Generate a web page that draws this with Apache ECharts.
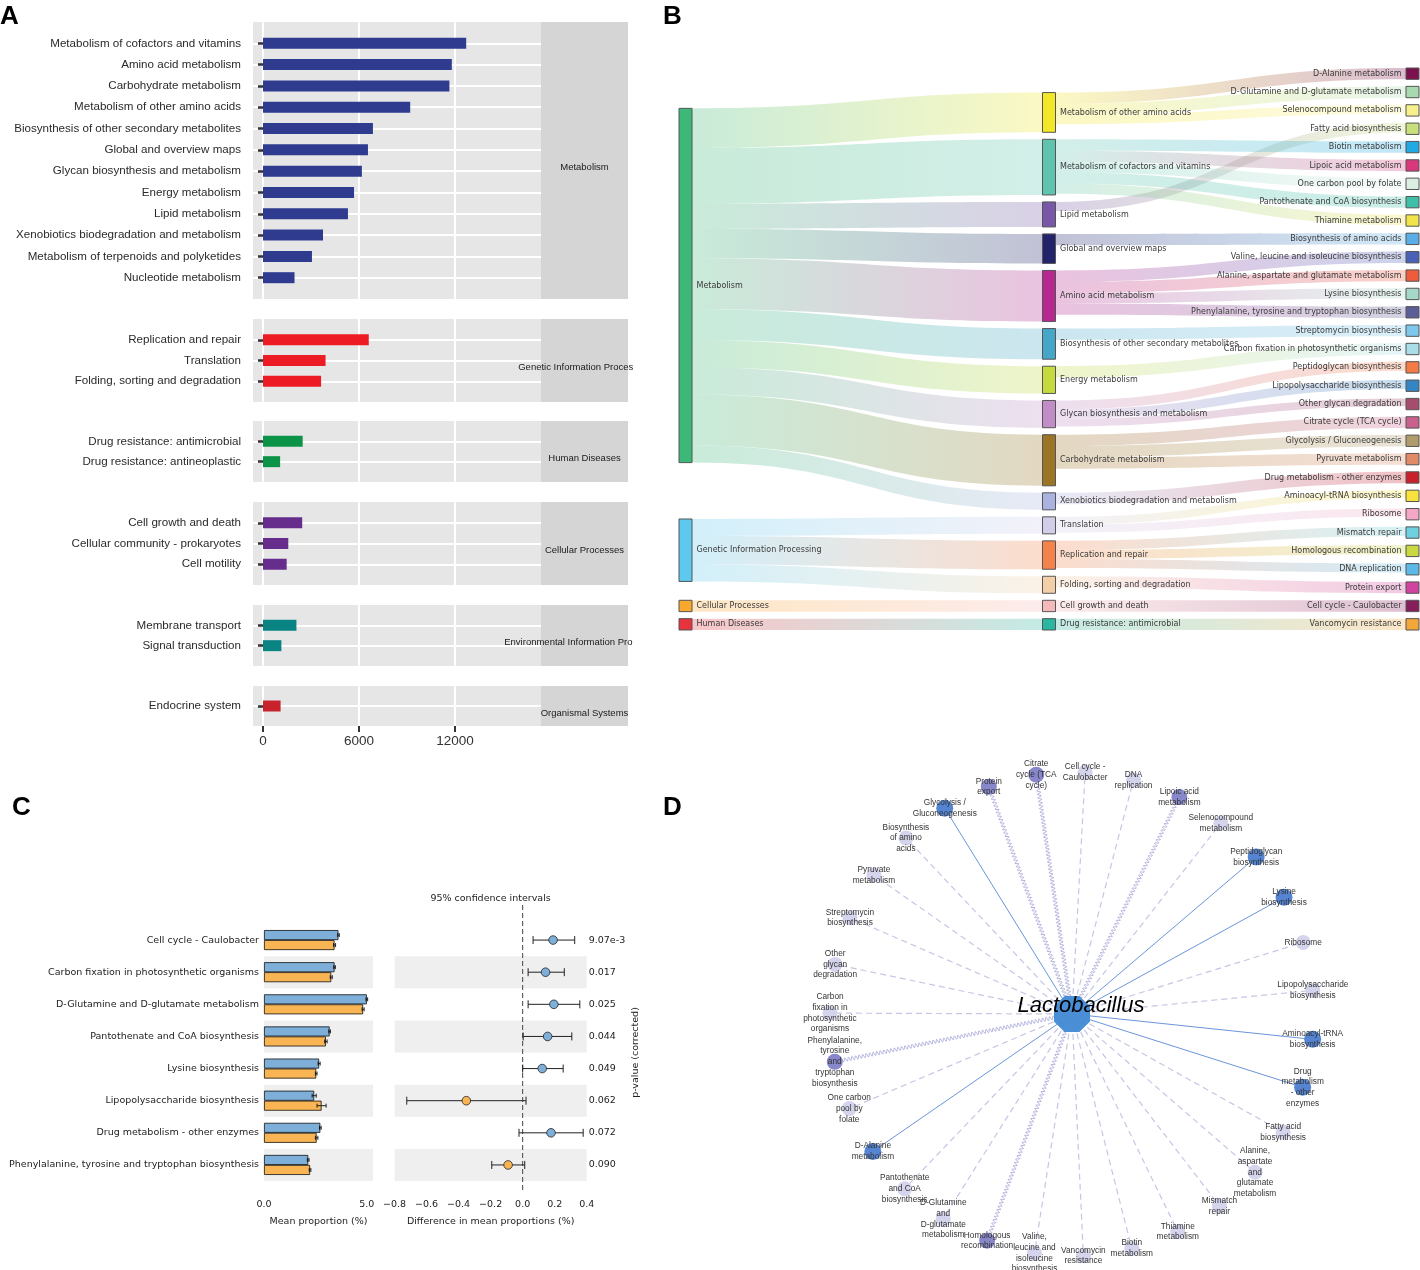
<!DOCTYPE html>
<html><head><meta charset="utf-8">
<script src="https://cdn.jsdelivr.net/npm/echarts@6/dist/echarts.min.js"></script>
<style>html,body{margin:0;padding:0;background:#fff}#c{width:1420px;height:1270px}</style>
</head><body><div id="c"></div>
<script>
// ================= Panel A data =================
const aFacets = ['Metabolism','Genetic Information Processing','Human Diseases','Cellular Processes','Environmental Information Processing','Organismal Systems'];
const aMetabolismCats = ['Metabolism of cofactors and vitamins','Amino acid metabolism','Carbohydrate metabolism','Metabolism of other amino acids','Biosynthesis of other secondary metabolites','Global and overview maps','Glycan biosynthesis and metabolism','Energy metabolism','Lipid metabolism','Xenobiotics biodegradation and metabolism','Metabolism of terpenoids and polyketides','Nucleotide metabolism'];
const aMetabolismVals = [12700,11800,11650,9200,6870,6560,6180,5690,5310,3750,3060,1970];
const aGeneticCats = ['Replication and repair','Translation','Folding, sorting and degradation'];
const aGeneticVals = [6610,3910,3630];
const aHumanCats = ['Drug resistance: antimicrobial','Drug resistance: antineoplastic'];
const aHumanVals = [2480,1070];
const aCellularCats = ['Cell growth and death','Cellular community - prokaryotes','Cell motility'];
const aCellularVals = [2450,1580,1480];
const aEnvCats = ['Membrane transport','Signal transduction'];
const aEnvVals = [2090,1150];
const aOrgCats = ['Endocrine system'];
const aOrgVals = [1100];
const aTicks = [0, 6000, 12000];

// ================= Panel B data =================
const bLeft = ['Metabolism','Genetic Information Processing','Cellular Processes','Human Diseases'];
const bLeftColors = ['#3db878','#5ec8ee','#f8a82c','#e8333d'];
const bMid = ['Metabolism of other amino acids','Metabolism of cofactors and vitamins','Lipid metabolism','Global and overview maps','Amino acid metabolism','Biosynthesis of other secondary metabolites','Energy metabolism','Glycan biosynthesis and metabolism','Carbohydrate metabolism','Xenobiotics biodegradation and metabolism','Translation','Replication and repair','Folding, sorting and degradation','Cell growth and death','Drug resistance: antimicrobial'];
const bMidParent = ['Metabolism','Metabolism','Metabolism','Metabolism','Metabolism','Metabolism','Metabolism','Metabolism','Metabolism','Metabolism','Genetic Information Processing','Genetic Information Processing','Genetic Information Processing','Cellular Processes','Human Diseases'];
const bMidValues = [3.5,4.9,2.2,2.6,4.5,2.7,2.4,2.4,4.5,1.5,1.5,2.5,1.5,1,1];
const bMidColors = ['#f3e72a','#5fc4ae','#7858a6','#23236b','#b4288f','#46a6c8','#c5da3f','#c08dc7','#9b7425','#aab3e0','#d2cee9','#f4834b','#f3cfa7','#f6b9ba','#2bb6a1'];
const bRight = ['D-Alanine metabolism','D-Glutamine and D-glutamate metabolism','Selenocompound metabolism','Fatty acid biosynthesis','Biotin metabolism','Lipoic acid metabolism','One carbon pool by folate','Pantothenate and CoA biosynthesis','Thiamine metabolism','Biosynthesis of amino acids','Valine, leucine and isoleucine biosynthesis','Alanine, aspartate and glutamate metabolism','Lysine biosynthesis','Phenylalanine, tyrosine and tryptophan biosynthesis','Streptomycin biosynthesis','Carbon fixation in photosynthetic organisms','Peptidoglycan biosynthesis','Lipopolysaccharide biosynthesis','Other glycan degradation','Citrate cycle (TCA cycle)','Glycolysis / Gluconeogenesis','Pyruvate metabolism','Drug metabolism - other enzymes','Aminoacyl-tRNA biosynthesis','Ribosome','Mismatch repair','Homologous recombination','DNA replication','Protein export','Cell cycle - Caulobacter','Vancomycin resistance'];
const bRightParent = ['Metabolism of other amino acids','Metabolism of other amino acids','Metabolism of other amino acids','Lipid metabolism','Metabolism of cofactors and vitamins','Metabolism of cofactors and vitamins','Metabolism of cofactors and vitamins','Metabolism of cofactors and vitamins','Metabolism of cofactors and vitamins','Global and overview maps','Amino acid metabolism','Amino acid metabolism','Amino acid metabolism','Amino acid metabolism','Biosynthesis of other secondary metabolites','Energy metabolism','Glycan biosynthesis and metabolism','Glycan biosynthesis and metabolism','Glycan biosynthesis and metabolism','Carbohydrate metabolism','Carbohydrate metabolism','Carbohydrate metabolism','Xenobiotics biodegradation and metabolism','Translation','Translation','Replication and repair','Replication and repair','Replication and repair','Folding, sorting and degradation','Cell growth and death','Drug resistance: antimicrobial'];
const bRightLinkValues = [1,1,0.8,0.8,1,1,0.9,1,0.9,1,1,1,0.9,1,1,1,0.8,0.8,0.7,1,1,1,1,0.7,0.7,0.8,0.8,0.8,1,1,1];
const bRightNodeValue = 1;
const bRightColors = ['#7c1150','#a9d9b1','#f8f08d','#c8e07b','#21a9e5','#d8387b','#dcefe5','#40bfa8','#f3e34b','#5aaee7','#4862b7','#ee5b3d','#a5d8c8','#5c5e97','#7ec8ee','#a9dde7','#f47b46','#3485c3','#a64d6e','#c9608e','#b09b6d','#e08a68','#c8212b','#f8e23b','#f4a7c6','#6fd0df','#c9d841','#5bb8e7','#d0439e','#861e5b','#f4a739'];

// ================= Panel C data =================
const cPathways = ['Cell cycle - Caulobacter','Carbon fixation in photosynthetic organisms','D-Glutamine and D-glutamate metabolism','Pantothenate and CoA biosynthesis','Lysine biosynthesis','Lipopolysaccharide biosynthesis','Drug metabolism - other enzymes','Phenylalanine, tyrosine and tryptophan biosynthesis'];
const cMeanBlue = [3.62,3.43,5.00,3.19,2.68,2.44,2.74,2.15];
const cMeanOrange = [3.43,3.27,4.82,3.01,2.54,2.80,2.56,2.24];
const cErrBlue = [0.04,0.04,0.04,0.04,0.05,0.10,0.04,0.04];
const cErrOrange = [0.05,0.05,0.05,0.06,0.04,0.22,0.06,0.04];
const cDiff = [0.190,0.143,0.195,0.156,0.122,-0.352,0.177,-0.091];
const cLow = [0.065,0.034,0.034,0.003,0.000,-0.724,-0.023,-0.193];
const cHigh = [0.325,0.260,0.357,0.307,0.253,0.021,0.378,0.013];
const cPvals = ['9.07e-3','0.017','0.025','0.044','0.049','0.062','0.072','0.090'];
const cDiffTicks = [-0.8,-0.6,-0.4,-0.2,0.0,0.2,0.4];

// ================= Panel D data =================
const dHub = 'Lactobacillus';
const dPathways = ['Citrate cycle (TCA cycle)','Cell cycle - Caulobacter','DNA replication','Lipoic acid metabolism','Selenocompound metabolism','Peptidoglycan biosynthesis','Lysine biosynthesis','Ribosome','Lipopolysaccharide biosynthesis','Aminoacyl-tRNA biosynthesis','Drug metabolism - other enzymes','Fatty acid biosynthesis','Alanine, aspartate and glutamate metabolism','Mismatch repair','Thiamine metabolism','Biotin metabolism','Vancomycin resistance','Valine, leucine and isoleucine biosynthesis','Homologous recombination','D-Glutamine and D-glutamate metabolism','Pantothenate and CoA biosynthesis','D-Alanine metabolism','One carbon pool by folate','Phenylalanine, tyrosine and tryptophan biosynthesis','Carbon fixation in photosynthetic organisms','Other glycan degradation','Streptomycin biosynthesis','Pyruvate metabolism','Biosynthesis of amino acids','Glycolysis / Gluconeogenesis','Protein export'];
const dLabels = ['Citrate\ncycle (TCA\ncycle)','Cell cycle -\nCaulobacter','DNA\nreplication','Lipoic acid\nmetabolism','Selenocompound\nmetabolism','Peptidoglycan\nbiosynthesis','Lysine\nbiosynthesis','Ribosome','Lipopolysaccharide\nbiosynthesis','Aminoacyl-tRNA\nbiosynthesis','Drug\nmetabolism\n- other\nenzymes','Fatty acid\nbiosynthesis','Alanine,\naspartate\nand\nglutamate\nmetabolism','Mismatch\nrepair','Thiamine\nmetabolism','Biotin\nmetabolism','Vancomycin\nresistance','Valine,\nleucine and\nisoleucine\nbiosynthesis','Homologous\nrecombination','D-Glutamine\nand\nD-glutamate\nmetabolism','Pantothenate\nand CoA\nbiosynthesis','D-Alanine\nmetabolism','One carbon\npool by\nfolate','Phenylalanine,\ntyrosine\nand\ntryptophan\nbiosynthesis','Carbon\nfixation in\nphotosynthetic\norganisms','Other\nglycan\ndegradation','Streptomycin\nbiosynthesis','Pyruvate\nmetabolism','Biosynthesis\nof amino\nacids','Glycolysis /\nGluconeogenesis','Protein\nexport'];
const dEdgeType = ['zigzag','dashed','dashed','zigzag','dashed','solid','solid','dashed','dashed','solid','solid','dashed','dashed','dashed','dashed','dashed','dashed','dashed','zigzag','dashed','dashed','solid','dashed','zigzag','dashed','dashed','dashed','dashed','dashed','solid','zigzag'];

// ================= build =================
const NARROW = "'Liberation Sans Narrow','Arial Narrow','Liberation Sans',sans-serif";
const SANS = "'Liberation Sans',Arial,sans-serif";
const DJV = "'DejaVu Sans',sans-serif";

const chart = echarts.init(document.getElementById('c'), null, {width:1420, height:1270});

const grids = [], xAxes = [], yAxes = [], series = [], graphics = [];

// ---------- Panel A ----------
const aCats = [aMetabolismCats, aGeneticCats, aHumanCats, aCellularCats, aEnvCats, aOrgCats];
const aVals = [aMetabolismVals, aGeneticVals, aHumanVals, aCellularVals, aEnvVals, aOrgVals];
const aColors = ['#2e3b8f','#ed1c24','#0b9447','#662d8c','#0a8482','#c8222d'];
const aBox = [[22,299],[319,402],[421,482],[502,585],[605,666],[686,726]];
const isBlank = (v) => String(v).trim() === '';
const mctx = document.createElement('canvas').getContext('2d');
aFacets.forEach((f, i) => {
  const [t, b] = aBox[i];
  grids.push({left:253, width:288, top:t, height:b - t, show:true, backgroundColor:'#e6e6e6', borderWidth:0, outerBoundsMode:'none', containLabel:false});
  xAxes.push({gridIndex:i, type:'value', min:-625, max:17375,
    axisLine:{show:false},
    axisTick:{show: i === 5, customValues: aTicks, length:6, lineStyle:{color:'#333', width:2}},
    axisLabel:{show: i === 5, customValues: aTicks, formatter:(v) => String(v), fontSize:13.5, fontFamily:NARROW, color:'#333', margin:8},
    splitLine:{show:true, lineStyle:{color:'#fff', width:2}}});
  yAxes.push({gridIndex:i, type:'category', inverse:true, boundaryGap:false,
    data:[' '].concat(aCats[i], ['  ']),
    axisLine:{show:false},
    axisTick:{length:5, lineStyle:{color:'#333', width:2.5}, interval:(idx, v) => !isBlank(v)},
    axisLabel:{fontSize:11.6, fontFamily:NARROW, color:'#2a2a2a', margin:12, interval:0},
    splitLine:{show:true, lineStyle:{color:'#fff', width:2}, interval:(idx, v) => !isBlank(v)}});
  series.push({type:'bar', xAxisIndex:i, yAxisIndex:i, barWidth:11, silent:true,
    data:[null].concat(aVals[i], [null]), itemStyle:{color:aColors[i]}});
  // strip
  graphics.push({type:'rect', shape:{x:541, y:t, width:87, height:b - t}, style:{fill:'#d5d5d5'}, silent:true});
  mctx.font = '9.5px ' + NARROW;
  const w = mctx.measureText(f).width;
  const x0 = 584.5 - w / 2;
  graphics.push({type:'text', x:x0, y:(t + b) / 2 + 7, silent:true,
    style:{text:f, fontSize:9.5, fontFamily:NARROW, fill:'#1a1a1a', align:'left', verticalAlign:'middle',
      width: Math.min(w + 2, 639 - x0), overflow:'truncate', ellipsis:''}});
});

// ---------- Panel C ----------
const gC1 = grids.length; grids.push({left:264, width:109, top:924, height:257, outerBoundsMode:'none', containLabel:false});
const gC2 = grids.length; grids.push({left:394.6, width:192.1, top:924, height:257, outerBoundsMode:'none', containLabel:false});
const cAxisLabel = {fontSize:9.5, fontFamily:DJV, color:'#222'};
xAxes.push({gridIndex:gC1, type:'value', min:0, max:5.3, offset:14,
  axisLine:{lineStyle:{color:'#333', width:0.8}},
  axisTick:{customValues:[0,5], inside:true, length:4, lineStyle:{color:'#333'}},
  axisLabel:Object.assign({customValues:[0,5], formatter:(v) => v.toFixed(1), margin:5}, cAxisLabel),
  splitLine:{show:false},
  name:'Mean proportion (%)', nameLocation:'middle', nameGap:22, nameTextStyle:cAxisLabel});
xAxes.push({gridIndex:gC2, type:'value', min:-0.8, max:0.4, interval:0.2, offset:14,
  axisLine:{lineStyle:{color:'#333', width:0.8}},
  axisTick:{customValues:cDiffTicks, inside:true, length:4, lineStyle:{color:'#333'}},
  axisLabel:Object.assign({customValues:cDiffTicks, margin:5, formatter:(v) => (v < -1e-9 ? '\u2212' : '') + Math.abs(v).toFixed(1)}, cAxisLabel),
  splitLine:{show:false},
  name:'Difference in mean proportions (%)', nameLocation:'middle', nameGap:22, nameTextStyle:cAxisLabel});
const yC1 = yAxes.length;
yAxes.push({gridIndex:gC1, type:'category', inverse:true, data:cPathways,
  axisLine:{show:false}, axisTick:{show:false}, axisLabel:Object.assign({margin:5, interval:0}, cAxisLabel)});
const yC2 = yAxes.length;
yAxes.push({gridIndex:gC2, type:'category', inverse:true, data:cPathways, show:false});
yAxes.push({gridIndex:gC2, type:'category', inverse:true, position:'right', data:cPvals,
  axisLine:{show:false}, axisTick:{show:false}, axisLabel:Object.assign({margin:2, interval:0, align:'left'}, cAxisLabel),
  name:'p-value (corrected)', nameLocation:'middle', nameRotate:90, nameGap:44, nameTextStyle:cAxisLabel});

const bandRows = cPathways.map((p, i) => i).filter(i => i % 2 === 1);
const bandRender = (params, api) => {
  const cs = params.coordSys;
  const yc = api.coord([0, api.value(1)])[1];
  const h = api.size([0, 1])[1];
  return {type:'rect', shape:{x:cs.x, y:yc - h / 2, width:cs.width, height:h}, style:{fill:'#efefef'}};
};
series.push({type:'custom', xAxisIndex:gC1, yAxisIndex:yC1, z:0, silent:true, renderItem:bandRender,
  data:bandRows.map(i => [0, i]), encode:{x:0, y:1}});
series.push({type:'custom', xAxisIndex:gC2, yAxisIndex:yC2, z:0, silent:true, renderItem:bandRender,
  data:bandRows.map(i => [0, i]), encode:{x:0, y:1}});
series.push({type:'bar', xAxisIndex:gC1, yAxisIndex:yC1, barWidth:10, barGap:'0%', z:2, silent:true,
  data:cMeanBlue, itemStyle:{color:'#7dafd9', borderColor:'#111', borderWidth:0.8}});
series.push({type:'bar', xAxisIndex:gC1, yAxisIndex:yC1, barWidth:10, barGap:'0%', z:2, silent:true,
  data:cMeanOrange, itemStyle:{color:'#f9b553', borderColor:'#111', borderWidth:0.8}});
const errData = [];
cPathways.forEach((p, i) => { errData.push([cMeanBlue[i], cErrBlue[i], i, 0]); errData.push([cMeanOrange[i], cErrOrange[i], i, 1]); });
series.push({type:'custom', xAxisIndex:gC1, yAxisIndex:yC1, z:3, silent:true, data:errData, encode:{x:0, y:2},
  renderItem:(params, api) => {
    const v = api.value(0), e = api.value(1), idx = api.value(2), g = api.value(3);
    const off = g === 0 ? -5 : 5;
    const a = api.coord([v - e, idx]), b = api.coord([v + e, idx]);
    const y = a[1] + off;
    const st = {stroke:'#111', lineWidth:0.9};
    return {type:'group', children:[
      {type:'line', shape:{x1:a[0], y1:y, x2:b[0], y2:y}, style:st},
      {type:'line', shape:{x1:a[0], y1:y - 2, x2:a[0], y2:y + 2}, style:st},
      {type:'line', shape:{x1:b[0], y1:y - 2, x2:b[0], y2:y + 2}, style:st}]};
  }});
series.push({type:'custom', xAxisIndex:gC2, yAxisIndex:yC2, z:2, silent:true, data:[[0, 0]], encode:{x:0, y:1},
  renderItem:(params, api) => {
    const cs = params.coordSys; const x = api.coord([0, 0])[0];
    return {type:'line', shape:{x1:x, y1:cs.y - 19, x2:x, y2:cs.y + cs.height + 11}, style:{stroke:'#444', lineWidth:1, lineDash:[5, 3]}};
  }});
series.push({type:'custom', xAxisIndex:gC2, yAxisIndex:yC2, z:3, silent:true,
  data:cDiff.map((d, i) => [d, cLow[i], cHigh[i], i]), encode:{x:[0, 1, 2], y:3},
  renderItem:(params, api) => {
    const idx = api.value(3), d = api.value(0);
    const lo = api.coord([api.value(1), idx]), hi = api.coord([api.value(2), idx]), pt = api.coord([d, idx]);
    const st = {stroke:'#222', lineWidth:1};
    return {type:'group', children:[
      {type:'line', shape:{x1:lo[0], y1:lo[1], x2:hi[0], y2:hi[1]}, style:st},
      {type:'line', shape:{x1:lo[0], y1:lo[1] - 4, x2:lo[0], y2:lo[1] + 4}, style:st},
      {type:'line', shape:{x1:hi[0], y1:hi[1] - 4, x2:hi[0], y2:hi[1] + 4}, style:st},
      {type:'circle', shape:{cx:pt[0], cy:pt[1], r:4.3}, style:{fill: d >= 0 ? '#7dafd9' : '#f9b553', stroke:'#222', lineWidth:0.8}}]};
  }});
graphics.push({type:'text', x:490.6, y:899, silent:true, style:{text:'95% confidence intervals', fontSize:9.5, fontFamily:DJV, fill:'#222', align:'center', verticalAlign:'middle'}});

// ---------- Panel B (sankey) ----------
const sLabel = {fontSize:8, fontFamily:DJV, color:'#3a3a3a'};
const sNodes = [];
bLeft.forEach((n, i) => sNodes.push({name:n, itemStyle:{color:bLeftColors[i]}, label:Object.assign({position:'right', distance:4}, sLabel)}));
bMid.forEach((n, i) => sNodes.push({name:n, itemStyle:{color:bMidColors[i]}, label:Object.assign({position:'right', distance:4}, sLabel)}));
bRight.forEach((n, i) => sNodes.push({name:n, value:bRightNodeValue, itemStyle:{color:bRightColors[i]}, label:Object.assign({position:'left', distance:4}, sLabel)}));
const sLinks = [];
bMid.forEach((n, i) => sLinks.push({source:bMidParent[i], target:n, value:bMidValues[i]}));
bRight.forEach((n, i) => sLinks.push({source:bRightParent[i], target:n, value:bRightLinkValues[i]}));
series.push({type:'sankey', left:679, right:1, top:68, bottom:640, nodeWidth:13, nodeGap:7,
  draggable:false, silent:true, emphasis:{disabled:true}, layoutIterations:32,
  data:sNodes, links:sLinks,
  itemStyle:{borderColor:'#555', borderWidth:1},
  lineStyle:{color:'gradient', opacity:0.28, curveness:0.5}});

// ---------- Panel D (network on polar) ----------
const dNodeColor = {solid:'#5585d2', zigzag:'#8787c9', dashed:'#d4d4ed'};
const dNodeSize = {solid:17, zigzag:16, dashed:15};
series.push({type:'custom', coordinateSystem:'polar', polarIndex:0, z:1, silent:true,
  data:dPathways.map((p, i) => [1, i]), encode:{radius:0, angle:1},
  renderItem:(params, api) => {
    const i = api.value(1); const type = dEdgeType[params.dataIndex];
    const c = api.coord([0, i]); const p = api.coord([1, i]);
    if (type === 'zigzag') {
      const dx = p[0] - c[0], dy = p[1] - c[1], L = Math.hypot(dx, dy);
      const ux = dx / L, uy = dy / L, nx = -uy, ny = ux;
      const pts = [];
      for (let t = 0; t <= L; t += 0.6) {
        const o = 2 * Math.sin(2 * Math.PI * t / 3.6);
        pts.push([c[0] + ux * t + nx * o, c[1] + uy * t + ny * o]);
      }
      return {type:'polyline', shape:{points:pts}, style:{stroke:'#a4a4d8', lineWidth:0.8, fill:null}};
    }
    if (type === 'solid') return {type:'line', shape:{x1:c[0], y1:c[1], x2:p[0], y2:p[1]}, style:{stroke:'#6a96da', lineWidth:1}};
    return {type:'line', shape:{x1:c[0], y1:c[1], x2:p[0], y2:p[1]}, style:{stroke:'#c6c6e4', lineWidth:1.2, lineDash:[6, 4]}};
  }});
series.push({type:'scatter', coordinateSystem:'polar', polarIndex:0, z:3, silent:true,
  data:dPathways.map((p, i) => ({name:p, value:[1, i], symbolSize:dNodeSize[dEdgeType[i]], itemStyle:{color:dNodeColor[dEdgeType[i]], opacity:1}})),
  label:{show:true, position:'inside', formatter:(pr) => dLabels[pr.dataIndex], fontSize:8.3, lineHeight:10.7, fontFamily:SANS, color:'#333'}});
series.push({type:'scatter', coordinateSystem:'polar', polarIndex:0, z:4, silent:true,
  symbol:'path://M29.3,0 L70.7,0 L100,29.3 L100,70.7 L70.7,100 L29.3,100 L0,70.7 L0,29.3 Z',
  data:[{name:dHub, value:[0, 0]}], symbolSize:36, itemStyle:{color:'#4a8fd6', opacity:1},
  label:{show:true, position:'inside', offset:[9, -8], formatter:dHub, fontSize:22, fontStyle:'italic', fontFamily:SANS, color:'#000'}});

// ---------- panel letters ----------
[['A', 0, 4], ['B', 663, 4], ['C', 12, 795], ['D', 663, 795]].forEach(([t, x, y]) =>
  graphics.push({type:'text', x:x, y:y, silent:true, style:{text:t, fontSize:26, fontWeight:'bold', fontFamily:SANS, fill:'#000'}}));

chart.setOption({
  animation:false,
  backgroundColor:'#fff',
  grid:grids, xAxis:xAxes, yAxis:yAxes,
  polar:{center:[1072, 1014], radius:242},
  angleAxis:{type:'value', min:0, max:31, startAngle:98.5, clockwise:true, axisLine:{show:false}, axisTick:{show:false}, axisLabel:{show:false}, splitLine:{show:false}},
  radiusAxis:{type:'value', min:0, max:1, axisLine:{show:false}, axisTick:{show:false}, axisLabel:{show:false}, splitLine:{show:false}},
  series:series,
  graphic:graphics
});
</script></body></html>
